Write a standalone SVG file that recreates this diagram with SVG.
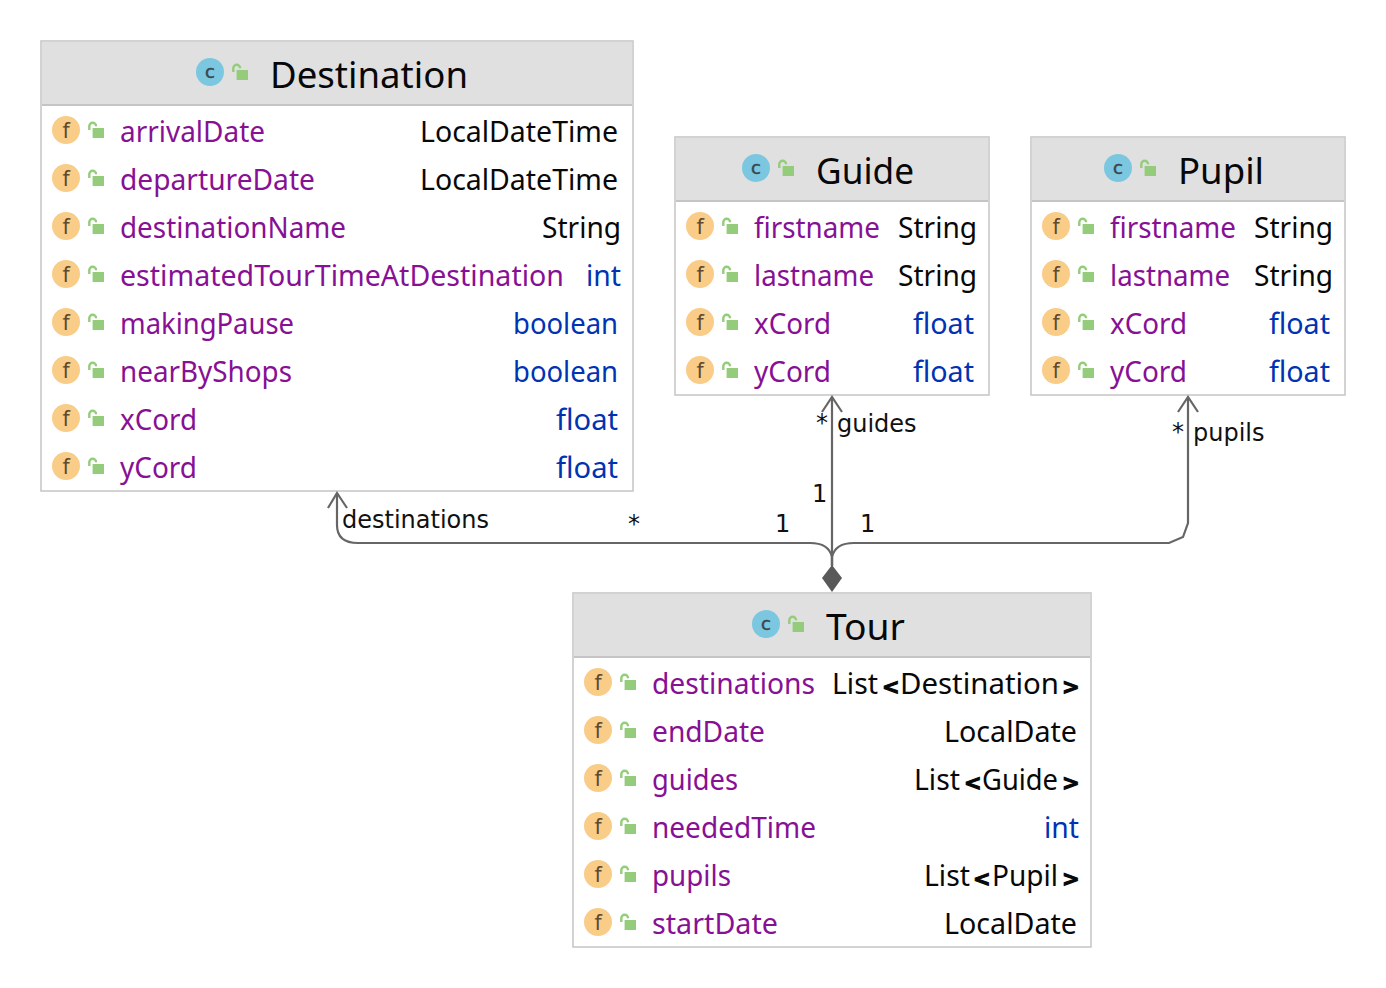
<svg xmlns="http://www.w3.org/2000/svg" xmlns:xlink="http://www.w3.org/1999/xlink" width="1386" height="988" viewBox="0 0 1386 988">
<style>
.box{fill:#fff;stroke:#c8c8c8;stroke-width:1.6}
.hd{fill:#e0e0e0}
.sep{stroke:#c4c4c4;stroke-width:2.2;fill:none}
text{font-family:"Noto Sans","Open Sans",sans-serif}
.t{font-size:36px;fill:#080808}
.n{font-size:29px;fill:#871094}
.k{font-size:29px;fill:#080808}
.b{font-size:29px;fill:#0033b3}
.g{font-family:"DejaVu Sans",sans-serif;font-weight:700;font-size:21px;stroke:#080808;stroke-width:1.1}
.l{font-family:"DejaVu Sans",sans-serif;font-size:24px;fill:#111}
.fi{font-size:21px;fill:#5a4a30;text-anchor:middle}
.ci{font-family:"DejaVu Sans",sans-serif;font-size:18px;fill:#39464e;stroke:#39464e;stroke-width:.5;text-anchor:middle}
.c{fill:none;stroke:#666;stroke-width:2.2}
</style>
<defs>
<g id="lock"><path d="M1.3 8V4.2a3.4 3.4 0 0 1 6.8 0" fill="none" stroke="#94cc7c" stroke-width="2.4"/><rect x="4.6" y="6" width="11.4" height="10" fill="#94cc7c"/></g>
<circle id="fc" r="14" fill="#f9cc88"/>
<circle id="cc" r="14" fill="#7cc7e0"/>
</defs>
<g id="Destination">
<rect class="box" x="41" y="41" width="592" height="450"/>
<rect class="hd" x="42" y="42" width="590" height="62"/>
<path class="sep" d="M42 105H632"/>
<use xlink:href="#cc" x="210" y="72"/><text class="ci" x="210" y="78">c</text><use xlink:href="#lock" x="232" y="64"/>
<text class="t" x="270" y="88" textLength="198" lengthAdjust="spacingAndGlyphs">Destination</text>
<use xlink:href="#fc" x="66" y="130"/><text class="fi" x="66" y="138">f</text><use xlink:href="#lock" x="88" y="122"/>
<text class="n" x="120" y="142" textLength="145" lengthAdjust="spacingAndGlyphs">arrivalDate</text><text class="k" x="420" y="142" textLength="198" lengthAdjust="spacingAndGlyphs">LocalDateTime</text>
<use xlink:href="#fc" x="66" y="178"/><text class="fi" x="66" y="186">f</text><use xlink:href="#lock" x="88" y="170"/>
<text class="n" x="120" y="190" textLength="195" lengthAdjust="spacingAndGlyphs">departureDate</text><text class="k" x="420" y="190" textLength="198" lengthAdjust="spacingAndGlyphs">LocalDateTime</text>
<use xlink:href="#fc" x="66" y="226"/><text class="fi" x="66" y="234">f</text><use xlink:href="#lock" x="88" y="218"/>
<text class="n" x="120" y="238" textLength="226" lengthAdjust="spacingAndGlyphs">destinationName</text><text class="k" x="542" y="238" textLength="79" lengthAdjust="spacingAndGlyphs">String</text>
<use xlink:href="#fc" x="66" y="274"/><text class="fi" x="66" y="282">f</text><use xlink:href="#lock" x="88" y="266"/>
<text class="n" x="120" y="286" textLength="444" lengthAdjust="spacingAndGlyphs">estimatedTourTimeAtDestination</text><text class="b" x="586" y="286" textLength="35" lengthAdjust="spacingAndGlyphs">int</text>
<use xlink:href="#fc" x="66" y="322"/><text class="fi" x="66" y="330">f</text><use xlink:href="#lock" x="88" y="314"/>
<text class="n" x="120" y="334" textLength="174" lengthAdjust="spacingAndGlyphs">makingPause</text><text class="b" x="513" y="334" textLength="105" lengthAdjust="spacingAndGlyphs">boolean</text>
<use xlink:href="#fc" x="66" y="370"/><text class="fi" x="66" y="378">f</text><use xlink:href="#lock" x="88" y="362"/>
<text class="n" x="120" y="382" textLength="172" lengthAdjust="spacingAndGlyphs">nearByShops</text><text class="b" x="513" y="382" textLength="105" lengthAdjust="spacingAndGlyphs">boolean</text>
<use xlink:href="#fc" x="66" y="418"/><text class="fi" x="66" y="426">f</text><use xlink:href="#lock" x="88" y="410"/>
<text class="n" x="120" y="430" textLength="77" lengthAdjust="spacingAndGlyphs">xCord</text><text class="b" x="556" y="430" textLength="62" lengthAdjust="spacingAndGlyphs">float</text>
<use xlink:href="#fc" x="66" y="466"/><text class="fi" x="66" y="474">f</text><use xlink:href="#lock" x="88" y="458"/>
<text class="n" x="120" y="478" textLength="77" lengthAdjust="spacingAndGlyphs">yCord</text><text class="b" x="556" y="478" textLength="62" lengthAdjust="spacingAndGlyphs">float</text>
</g>
<g id="Guide">
<rect class="box" x="675" y="137" width="314" height="258"/>
<rect class="hd" x="676" y="138" width="312" height="62"/>
<path class="sep" d="M676 201H988"/>
<use xlink:href="#cc" x="756" y="168"/><text class="ci" x="756" y="174">c</text><use xlink:href="#lock" x="778" y="160"/>
<text class="t" x="816" y="184" textLength="98" lengthAdjust="spacingAndGlyphs">Guide</text>
<use xlink:href="#fc" x="700" y="226"/><text class="fi" x="700" y="234">f</text><use xlink:href="#lock" x="722" y="218"/>
<text class="n" x="754" y="238" textLength="126" lengthAdjust="spacingAndGlyphs">firstname</text><text class="k" x="898" y="238" textLength="79" lengthAdjust="spacingAndGlyphs">String</text>
<use xlink:href="#fc" x="700" y="274"/><text class="fi" x="700" y="282">f</text><use xlink:href="#lock" x="722" y="266"/>
<text class="n" x="754" y="286" textLength="120" lengthAdjust="spacingAndGlyphs">lastname</text><text class="k" x="898" y="286" textLength="79" lengthAdjust="spacingAndGlyphs">String</text>
<use xlink:href="#fc" x="700" y="322"/><text class="fi" x="700" y="330">f</text><use xlink:href="#lock" x="722" y="314"/>
<text class="n" x="754" y="334" textLength="77" lengthAdjust="spacingAndGlyphs">xCord</text><text class="b" x="913" y="334" textLength="61" lengthAdjust="spacingAndGlyphs">float</text>
<use xlink:href="#fc" x="700" y="370"/><text class="fi" x="700" y="378">f</text><use xlink:href="#lock" x="722" y="362"/>
<text class="n" x="754" y="382" textLength="77" lengthAdjust="spacingAndGlyphs">yCord</text><text class="b" x="913" y="382" textLength="61" lengthAdjust="spacingAndGlyphs">float</text>
</g>
<g id="Pupil">
<rect class="box" x="1031" y="137" width="314" height="258"/>
<rect class="hd" x="1032" y="138" width="312" height="62"/>
<path class="sep" d="M1032 201H1344"/>
<use xlink:href="#cc" x="1118" y="168"/><text class="ci" x="1118" y="174">c</text><use xlink:href="#lock" x="1140" y="160"/>
<text class="t" x="1178" y="184" textLength="86" lengthAdjust="spacingAndGlyphs">Pupil</text>
<use xlink:href="#fc" x="1056" y="226"/><text class="fi" x="1056" y="234">f</text><use xlink:href="#lock" x="1078" y="218"/>
<text class="n" x="1110" y="238" textLength="126" lengthAdjust="spacingAndGlyphs">firstname</text><text class="k" x="1254" y="238" textLength="79" lengthAdjust="spacingAndGlyphs">String</text>
<use xlink:href="#fc" x="1056" y="274"/><text class="fi" x="1056" y="282">f</text><use xlink:href="#lock" x="1078" y="266"/>
<text class="n" x="1110" y="286" textLength="120" lengthAdjust="spacingAndGlyphs">lastname</text><text class="k" x="1254" y="286" textLength="79" lengthAdjust="spacingAndGlyphs">String</text>
<use xlink:href="#fc" x="1056" y="322"/><text class="fi" x="1056" y="330">f</text><use xlink:href="#lock" x="1078" y="314"/>
<text class="n" x="1110" y="334" textLength="77" lengthAdjust="spacingAndGlyphs">xCord</text><text class="b" x="1269" y="334" textLength="61" lengthAdjust="spacingAndGlyphs">float</text>
<use xlink:href="#fc" x="1056" y="370"/><text class="fi" x="1056" y="378">f</text><use xlink:href="#lock" x="1078" y="362"/>
<text class="n" x="1110" y="382" textLength="77" lengthAdjust="spacingAndGlyphs">yCord</text><text class="b" x="1269" y="382" textLength="61" lengthAdjust="spacingAndGlyphs">float</text>
</g>
<g id="Tour">
<rect class="box" x="573" y="593" width="518" height="354"/>
<rect class="hd" x="574" y="594" width="516" height="62"/>
<path class="sep" d="M574 657H1090"/>
<use xlink:href="#cc" x="766" y="624"/><text class="ci" x="766" y="630">c</text><use xlink:href="#lock" x="788" y="616"/>
<text class="t" x="826" y="640" textLength="79" lengthAdjust="spacingAndGlyphs">Tour</text>
<use xlink:href="#fc" x="598" y="682"/><text class="fi" x="598" y="690">f</text><use xlink:href="#lock" x="620" y="674"/>
<text class="n" x="652" y="694" textLength="163" lengthAdjust="spacingAndGlyphs">destinations</text><text class="k" y="694"><tspan x="832" textLength="46" lengthAdjust="spacingAndGlyphs">List</tspan><tspan class="g" x="882">&lt;</tspan><tspan x="900" textLength="159" lengthAdjust="spacingAndGlyphs">Destination</tspan><tspan class="g" x="1062">&gt;</tspan></text>
<use xlink:href="#fc" x="598" y="730"/><text class="fi" x="598" y="738">f</text><use xlink:href="#lock" x="620" y="722"/>
<text class="n" x="652" y="742" textLength="113" lengthAdjust="spacingAndGlyphs">endDate</text><text class="k" x="944" y="742" textLength="133" lengthAdjust="spacingAndGlyphs">LocalDate</text>
<use xlink:href="#fc" x="598" y="778"/><text class="fi" x="598" y="786">f</text><use xlink:href="#lock" x="620" y="770"/>
<text class="n" x="652" y="790" textLength="86" lengthAdjust="spacingAndGlyphs">guides</text><text class="k" y="790"><tspan x="914" textLength="46" lengthAdjust="spacingAndGlyphs">List</tspan><tspan class="g" x="964">&lt;</tspan><tspan x="982" textLength="76" lengthAdjust="spacingAndGlyphs">Guide</tspan><tspan class="g" x="1062">&gt;</tspan></text>
<use xlink:href="#fc" x="598" y="826"/><text class="fi" x="598" y="834">f</text><use xlink:href="#lock" x="620" y="818"/>
<text class="n" x="652" y="838" textLength="164" lengthAdjust="spacingAndGlyphs">neededTime</text><text class="b" x="1044" y="838" textLength="35" lengthAdjust="spacingAndGlyphs">int</text>
<use xlink:href="#fc" x="598" y="874"/><text class="fi" x="598" y="882">f</text><use xlink:href="#lock" x="620" y="866"/>
<text class="n" x="652" y="886" textLength="79" lengthAdjust="spacingAndGlyphs">pupils</text><text class="k" y="886"><tspan x="924" textLength="46" lengthAdjust="spacingAndGlyphs">List</tspan><tspan class="g" x="973">&lt;</tspan><tspan x="992" textLength="66" lengthAdjust="spacingAndGlyphs">Pupil</tspan><tspan class="g" x="1062">&gt;</tspan></text>
<use xlink:href="#fc" x="598" y="922"/><text class="fi" x="598" y="930">f</text><use xlink:href="#lock" x="620" y="914"/>
<text class="n" x="652" y="934" textLength="126" lengthAdjust="spacingAndGlyphs">startDate</text><text class="k" x="944" y="934" textLength="133" lengthAdjust="spacingAndGlyphs">LocalDate</text>
</g>
<g id="connectors">
<path class="c" d="M832 566V397"/>
<path class="c" d="M822 412L832 397L842 412"/>
<path class="c" d="M832 566V557C830 548 824 543 810 543H358C345 543 337 538 337 525V493"/>
<path class="c" d="M328 508L337 493L347 508"/>
<path class="c" d="M832 566V557C834 548 840 543 854 543H1169L1183 537L1188 523V397"/>
<path class="c" d="M1178 412L1188 397L1198 412"/>
<path d="M832 565L842 578L832 592L822 578Z" fill="#595959"/>
<text class="l" x="342" y="528">destinations</text>
<text class="l" x="628" y="532">*</text>
<text class="l" x="775" y="532">1</text>
<text class="l" x="812" y="502">1</text>
<text class="l" x="860" y="532">1</text>
<text class="l" x="816" y="431">*</text>
<text class="l" x="837" y="432">guides</text>
<text class="l" x="1172" y="440">*</text>
<text class="l" x="1193" y="441">pupils</text>
</g>
</svg>
